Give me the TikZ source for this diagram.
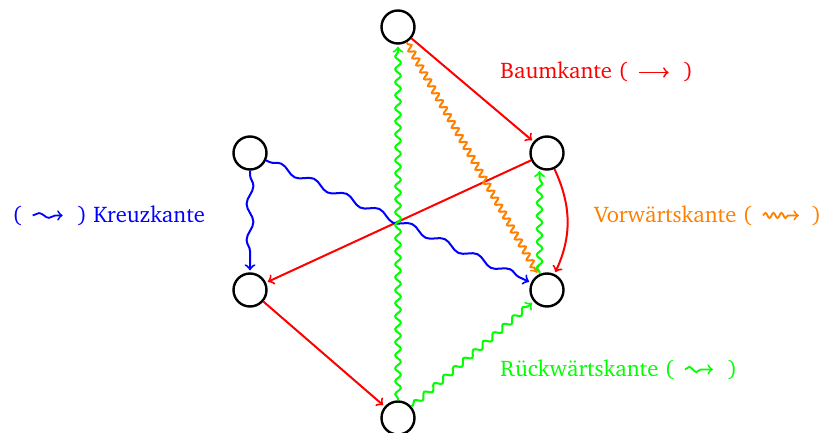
\documentclass[tikz,border=0pt]{standalone}
\usepackage[T1]{fontenc}
\usepackage{charter}
\usetikzlibrary{decorations.pathmorphing}
\definecolor{treec}{RGB}{255,0,0}
\definecolor{crossc}{RGB}{0,0,255}
\definecolor{fwdc}{RGB}{255,128,0}
\definecolor{backc}{RGB}{0,255,0}
\tikzset{
  vertex/.style={circle,draw=black,line width=1.2pt,minimum size=16.5pt,inner sep=0pt},
  edge/.style={->,line width=1pt,shorten >=1pt},
  tree/.style={edge,treec},
  cross/.style={edge,crossc,decorate,decoration={snake,segment length=18pt,amplitude=1.7pt,pre length=2pt,post length=3pt}},
  fwd/.style={edge,fwdc,decorate,decoration={snake,segment length=4pt,amplitude=1.5pt,pre length=1pt,post length=3pt}},
  back/.style={edge,backc,decorate,decoration={snake,segment length=6.5pt,amplitude=1.4pt,pre length=1pt,post length=3pt}},
  legend/.style={anchor=base west,inner sep=0pt,font=\fontsize{11.3}{13}\selectfont}
}
\newcommand{\legarrow}[2]{\tikz[baseline=-0.6ex]\draw[#1] (0,0) -- (#2,0);}
\begin{document}
\begin{tikzpicture}[x=0.5pt,y=-0.5pt]
\useasboundingbox (0,0) rectangle (819,433);
\clip (0,0) rectangle (819,433);

% vertices
\node[vertex] (t)  at (398,27)  {};
\node[vertex] (ru) at (547,153) {};
\node[vertex] (lu) at (250,153) {};
\node[vertex] (ll) at (250,290) {};
\node[vertex] (rl) at (547,290) {};
\node[vertex] (b)  at (398,418) {};

% tree edges
\draw[tree] (t) -- (ru);
\draw[tree] (ru) -- (ll);
\draw[tree] (ru.-65) to[bend left=25] (rl.65);
\draw[tree] (ll) -- (b);

% cross edges
\draw[cross] (lu) -- (ll);
\draw[cross] (lu) -- (rl);

% forward edge
\draw[fwd] (t) -- (rl);

% back edges
\draw[back] (b) -- (t);
\draw[back] (b) -- (rl);
\draw[back] (rl.115) -- (ru.245);

% legend
\node[legend,text=treec] (lt) at (500,79)
  {Baumkante (\hspace{5pt}\legarrow{->,line width=0.9pt}{15pt}\hspace{7pt})};
\node[legend,text=crossc] (lc) at (12,222)
  {(\hspace{5pt}\legarrow{->,line width=0.9pt,decorate,decoration={snake,segment length=10pt,amplitude=1.2pt,post length=3pt}}{15pt}\hspace{7pt}) Kreuzkante};
\node[legend,text=fwdc] (lf) at (594,222)
  {Vorw\"artskante (\hspace{5pt}\legarrow{->,line width=0.9pt,decorate,decoration={snake,segment length=4pt,amplitude=1.3pt,post length=4pt}}{18pt}\hspace{6pt})};
\node[legend,text=backc] (lb) at (500,376)
  {R\"uckw\"artskante (\hspace{5pt}\legarrow{->,line width=0.9pt,decorate,decoration={snake,segment length=7pt,amplitude=1.3pt,post length=4pt}}{14pt}\hspace{7pt})};
\end{tikzpicture}
\end{document}
